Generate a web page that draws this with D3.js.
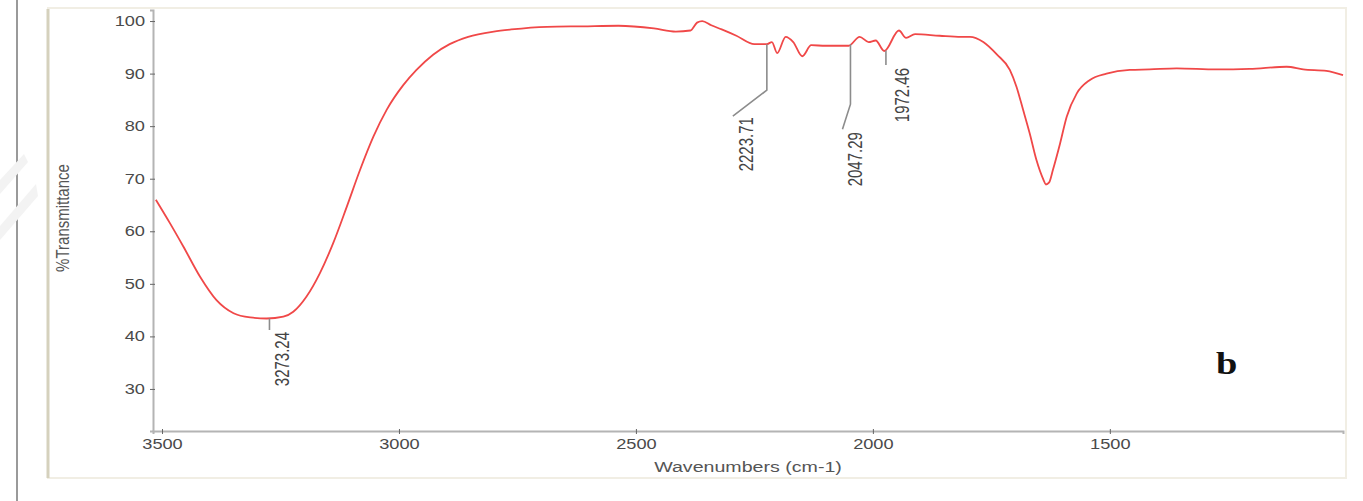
<!DOCTYPE html>
<html>
<head>
<meta charset="utf-8">
<script src="https://cdn.jsdelivr.net/npm/d3@7"></script>
<style>
  body { margin: 0; background: #fff; }
  svg { display: block; font-family: "Liberation Sans", Arial, sans-serif; }
</style>
</head>
<body>
<svg id="ftir" width="1363" height="501"></svg>
<script>
// spectrum (cm-1 / %T)
const wavenumbers = [
  3513, 3483, 3455, 3420, 3385, 3349, 3314, 3279, 3244, 3223, 3195, 3167, 3139, 3110,
  3082, 3054, 3026, 2991, 2963, 2928, 2893, 2854, 2800, 2763, 2688, 2612, 2537, 2462,
  2416, 2385, 2371, 2360, 2341, 2319, 2288, 2250, 2224, 2213, 2202, 2184, 2168, 2149,
  2130, 2100, 2051, 2028, 2009, 1994, 1976, 1945, 1930, 1911, 1859, 1814, 1795, 1767,
  1738, 1711, 1697, 1683, 1669, 1655, 1640, 1635, 1628, 1620, 1605, 1591, 1570, 1542,
  1507, 1458, 1416, 1359, 1275, 1205, 1127, 1092, 1043, 1008
];
const transmittance = [
  66.0, 61.5, 57.1, 51.4, 46.9, 44.4, 43.6, 43.4, 43.75, 44.7, 47.6, 52.0, 57.7, 64.7,
  71.7, 78.0, 83.1, 87.8, 90.7, 93.6, 95.6, 97.0, 98.0, 98.4, 98.9, 99.0, 99.1, 98.6,
  98.0, 98.2, 99.7, 100.0, 99.2, 98.4, 97.2, 95.6, 95.6, 96.0, 93.9, 97.0, 96.0, 93.3,
  95.4, 95.3, 95.3, 97.0, 96.0, 96.3, 94.3, 98.2, 96.8, 97.5, 97.2, 97.0, 97.0, 96.0,
  93.6, 90.7, 87.5, 83.1, 78.6, 73.6, 69.8, 68.9, 69.3, 71.7, 76.7, 81.8, 86.2, 88.8,
  90.0, 90.7, 90.8, 91.0, 90.8, 90.9, 91.3, 90.8, 90.5, 89.7
];

// labelled peaks
const peakWavenumbers = [3273.24, 2223.71, 2047.29, 1972.46];
const peakTransmittance = [43.4, 95.6, 95.6, 94.4];
const peakLabels = ['3273.24', '2223.71', '2047.29', '1972.46'];

const xTicks = [3500, 3000, 2500, 2000, 1500];
const yTicks = [30, 40, 50, 60, 70, 80, 90, 100];

const svg = d3.select('#ftir');

// stretch text wider, the scan is a bit wide
function widen(sel, k) {
  sel.each(function () {
    const w = this.getComputedTextLength();
    d3.select(this).attr('textLength', w * k).attr('lengthAdjust', 'spacingAndGlyphs');
  });
}

// page frame
svg.append('line').attr('x1', 17).attr('x2', 17).attr('y1', 0).attr('y2', 501)
  .attr('stroke', '#9a9a9a').attr('stroke-width', 2);
svg.append('rect').attr('x', 48).attr('y', 8).attr('width', 1298).attr('height', 470)
  .attr('fill', 'none').attr('stroke', '#f1eee4').attr('stroke-width', 2);
svg.append('line').attr('x1', 48).attr('x2', 48).attr('y1', 9).attr('y2', 478)
  .attr('stroke', '#d5d1bd').attr('stroke-width', 3);
// faint watermark on the left edge
svg.append('path').attr('d', 'M0,180 L24,154 L28,162 L0,194 Z M0,226 L36,184 L38,196 L0,240 Z')
  .attr('fill', '#f3f3f3');

const x = d3.scaleLinear().domain([3519, 1008]).range([153, 1343]);
const y = d3.scaleLinear().domain([22, 102.1]).range([431, 10]);

// axes
const gy = svg.append('g').attr('transform', 'translate(153,0)');
gy.call(d3.axisLeft(y).tickValues(d3.range(24, 102.1, 2)).tickSize(2).tickFormat(''));
gy.call(d3.axisLeft(y).tickValues(yTicks).tickSize(3).tickPadding(5).tickFormat(d3.format('d')));
gy.selectAll('.tick line').attr('x1', 2).attr('stroke', '#666');
gy.selectAll('.domain').attr('stroke', '#b4b4b4').attr('stroke-width', 2);
gy.selectAll('.tick text').attr('font-size', 14).attr('fill', '#4a4a4a')
  .attr('font-family', '"Liberation Sans", Arial, sans-serif').call(widen, 1.3);

const gx = svg.append('g').attr('transform', 'translate(0,431)');
gx.call(d3.axisBottom(x).tickValues(d3.range(3500, 1050, -100)).tickSize(2).tickFormat(''));
gx.call(d3.axisBottom(x).tickValues(xTicks).tickSize(3).tickPadding(5).tickFormat(d3.format('d')));
gx.selectAll('.tick line').attr('y1', -2).attr('stroke', '#666');
gx.selectAll('.domain').attr('stroke', '#b4b4b4').attr('stroke-width', 2);
gx.selectAll('.tick text').attr('font-size', 14).attr('fill', '#4a4a4a')
  .attr('font-family', '"Liberation Sans", Arial, sans-serif').call(widen, 1.3);

// axis titles
svg.append('text').attr('x', 748).attr('y', 472).attr('text-anchor', 'middle')
  .attr('font-size', 14).attr('fill', '#555').text('Wavenumbers (cm-1)').call(widen, 1.4);
svg.append('text').attr('transform', 'translate(69,218) rotate(-90) scale(1,1.25)')
  .attr('text-anchor', 'middle').attr('font-size', 15).attr('fill', '#555')
  .text('%Transmittance');

// spectrum
const spectrum = d3.zip(wavenumbers, transmittance);
svg.append('path').datum(spectrum)
  .attr('fill', 'none').attr('stroke', '#f04848').attr('stroke-width', 1.8)
  .attr('stroke-linejoin', 'round')
  .attr('d', d3.line().x((d) => x(d[0])).y((d) => y(d[1])).curve(d3.curveMonotoneX));

// peak leaders: drop, elbow offset, label baseline offset, label gap
const leaders = [
  { drop: 11.5, kx: 0, ky: 0, lx: 20, gap: 2 },
  { drop: 46, kx: -34, ky: 26, lx: -14, gap: 1 },
  { drop: 60, kx: -8, ky: 25, lx: 12, gap: 3 },
  { drop: 14.5, kx: 0, ky: 0, lx: 23, gap: 3 },
];
peakWavenumbers.forEach((wn, i) => {
  const L = leaders[i];
  const x0 = x(wn);
  const y0 = y(peakTransmittance[i]);
  const yEnd = y0 + L.drop + L.ky;
  svg.append('path')
    .attr('d', `M${x0},${y0} V${y0 + L.drop} L${x0 + L.kx},${yEnd}`)
    .attr('fill', 'none').attr('stroke', '#8c8c8c').attr('stroke-width', 1.6);
  svg.append('text')
    .attr('transform', `translate(${x0 + L.lx},${yEnd + L.gap}) rotate(-90) scale(1,1.3)`)
    .attr('text-anchor', 'end').attr('font-size', 15).attr('fill', '#444')
    .text(peakLabels[i]);
});

// panel letter
svg.append('text').attr('x', 1216).attr('y', 374)
  .attr('font-family', '"Liberation Serif", "Times New Roman", serif')
  .attr('font-weight', 'bold').attr('font-size', 32).attr('fill', '#111')
  .text('b').call(widen, 1.2);
</script>
</body>
</html>
